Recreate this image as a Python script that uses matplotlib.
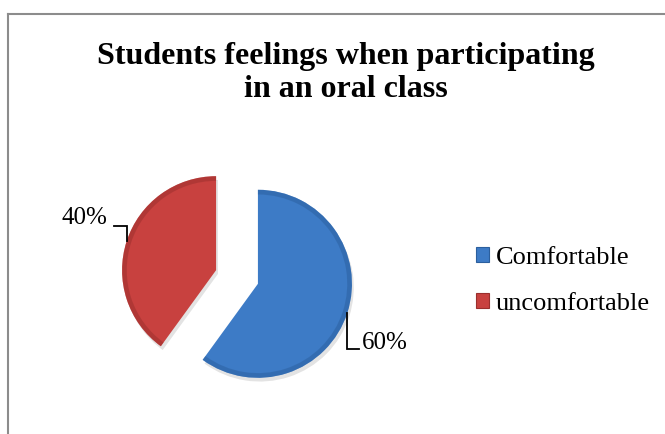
import numpy as np
import matplotlib
matplotlib.use("Agg")
import matplotlib.pyplot as plt
from matplotlib.patches import Patch, Wedge
from matplotlib.lines import Line2D

# chart data
title = "Students feelings when participating\nin an oral class"
categories = ["Comfortable", "uncomfortable"]
shares = [60, 40]
pct_labels = ["60%", "40%"]
colors = ["#3D7BC6", "#C8413F"]
edge_colors = ["#2B5F9E", "#9A2F2D"]

plt.rcParams["font.family"] = ["Liberation Serif", "DejaVu Serif"]

W, H = 665, 434
fig = plt.figure(figsize=(W / 100, H / 100), dpi=100)
fig.patch.set_facecolor("white")

# pie axes: 1 data unit = R px, centre at (cx, cy) px from top-left
R = 94.0
cx, cy = 237.0, 277.0
ax = fig.add_axes([0, 0, 1, 1])

explode = [0.234, 0.234]

# soft shadow under the pie
shadow, _ = ax.pie(shares, startangle=90, counterclock=False, explode=explode,
                   center=(0.02, -0.04), colors=["#0000001C", "#0000001C"],
                   wedgeprops=dict(linewidth=0), normalize=True)
for s in shadow:
    s.set_zorder(0)

wedges, _ = ax.pie(shares, startangle=90, counterclock=False, explode=explode,
                   colors=colors, normalize=True,
                   wedgeprops=dict(edgecolor="none", linewidth=0))

# pie() resets the limits, so fix them afterwards
ax.set_xlim(-cx / R, (W - cx) / R)
ax.set_ylim(-(H - cy) / R, cy / R)
ax.set_aspect("auto")
ax.axis("off")

# bevel-like darker rim
for w, ec in zip(wedges, edge_colors):
    w.set_zorder(2)
    rim = Wedge(w.center, w.r, w.theta1, w.theta2, width=0.05,
                facecolor=ec, alpha=0.5, edgecolor="none", zorder=3)
    ax.add_patch(rim)

# data labels with elbow leader lines
px = 1.0 / R
for w, lab in zip(wedges, pct_labels):
    mid = np.deg2rad((w.theta1 + w.theta2) / 2)
    p = (w.center[0] + w.r * np.cos(mid), w.center[1] + w.r * np.sin(mid))
    if np.cos(mid) < 0:
        elbow = (p[0], p[1] + 15 * px)
        end = (elbow[0] - 13 * px, elbow[1])
        ax.plot([p[0], elbow[0], end[0]], [p[1], elbow[1], end[1]],
                color="black", lw=1.3, zorder=4, solid_joinstyle="miter")
        ax.text(end[0] - 6 * px, end[1] + 8 * px, lab, ha="right", va="center",
                fontsize=18)
    else:
        elbow = (p[0], p[1] - 36 * px)
        end = (elbow[0] + 12 * px, elbow[1])
        ax.plot([p[0], elbow[0], end[0]], [p[1], elbow[1], end[1]],
                color="black", lw=1.3, zorder=4, solid_joinstyle="miter")
        ax.text(end[0] + 3 * px, end[1] + 6 * px, lab, ha="left", va="center",
                fontsize=18)

fig.text(346 / W, 1 - 73 / H, title, ha="center", va="center",
         fontsize=23, fontweight="bold", linespacing=1.2)

handles = [Patch(facecolor=c, edgecolor=e, linewidth=0.8)
           for c, e in zip(colors, edge_colors)]
fig.legend(handles, categories, loc="center left",
           bbox_to_anchor=(476 / W, 1 - 281 / H), frameon=False,
           fontsize=19, handlelength=0.5, handleheight=0.5,
           handletextpad=0.25, labelspacing=0.92, borderpad=0,
           borderaxespad=0)

# chart area border (top and left visible)
fig.add_artist(Line2D([8 / W, 664 / W], [1 - 14 / H, 1 - 14 / H],
                      transform=fig.transFigure, color="#8C8C8C", lw=1.5))
fig.add_artist(Line2D([8 / W, 8 / W], [1 - 14 / H, 0],
                      transform=fig.transFigure, color="#8C8C8C", lw=1.5))

fig.savefig("out.png", dpi=100)
